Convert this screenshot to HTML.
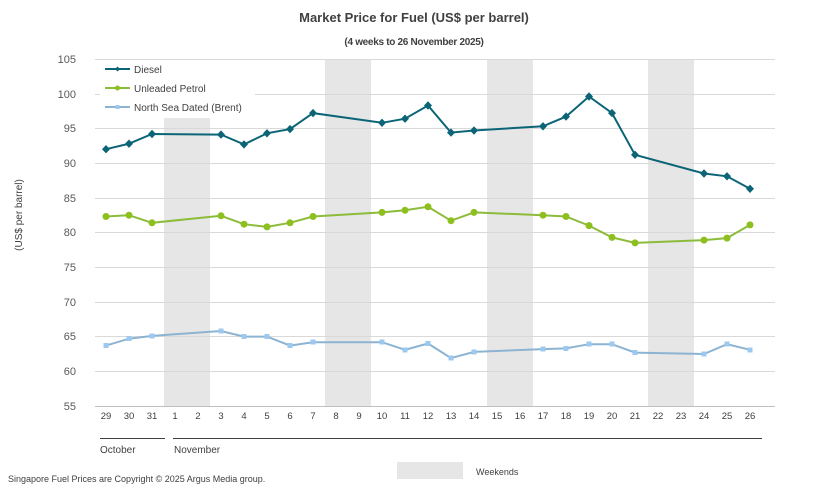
<!DOCTYPE html>
<html><head><meta charset="utf-8"><style>
body{margin:0;background:#fff;}
svg{display:block;font-family:"Liberation Sans",sans-serif;}
</style></head><body>
<svg width="829" height="494" viewBox="0 0 829 494" xmlns="http://www.w3.org/2000/svg">
<rect width="829" height="494" fill="#fff"/>
<text x="414" y="22" text-anchor="middle" font-size="13" font-weight="bold" fill="#404040">Market Price for Fuel (US$ per barrel)</text>
<text x="414" y="45" text-anchor="middle" font-size="10" font-weight="bold" fill="#404040" letter-spacing="-0.3">(4 weeks to 26 November 2025)</text>
<g fill="#e6e6e6">
<rect x="164" y="59" width="46" height="347"/>
<rect x="325" y="59" width="46" height="347"/>
<rect x="487" y="59" width="46" height="347"/>
<rect x="648" y="59" width="46" height="347"/>
</g>
<g stroke="#d9d9d9" stroke-width="1">
<line x1="95" x2="775" y1="59.5" y2="59.5"/><line x1="95" x2="775" y1="94.5" y2="94.5"/><line x1="95" x2="775" y1="128.5" y2="128.5"/><line x1="95" x2="775" y1="163.5" y2="163.5"/><line x1="95" x2="775" y1="198.5" y2="198.5"/><line x1="95" x2="775" y1="232.5" y2="232.5"/><line x1="95" x2="775" y1="267.5" y2="267.5"/><line x1="95" x2="775" y1="302.5" y2="302.5"/><line x1="95" x2="775" y1="336.5" y2="336.5"/><line x1="95" x2="775" y1="371.5" y2="371.5"/>
</g>
<line x1="95" x2="775" y1="406.5" y2="406.5" stroke="#bfbfbf"/>
<g font-size="11" fill="#595959" text-anchor="end">
<text x="76" y="63">105</text><text x="76" y="98">100</text><text x="76" y="132">95</text><text x="76" y="167">90</text><text x="76" y="202">85</text><text x="76" y="236">80</text><text x="76" y="271">75</text><text x="76" y="306">70</text><text x="76" y="340">65</text><text x="76" y="375">60</text><text x="76" y="410">55</text>
</g>
<text transform="translate(22,215) rotate(-90)" text-anchor="middle" font-size="10" fill="#404040">(US$ per barrel)</text>
<g font-size="9.5" fill="#404040" text-anchor="middle">
<text x="106" y="419">29</text><text x="129" y="419">30</text><text x="152" y="419">31</text><text x="175" y="419">1</text><text x="198" y="419">2</text><text x="221" y="419">3</text><text x="244" y="419">4</text><text x="267" y="419">5</text><text x="290" y="419">6</text><text x="313" y="419">7</text><text x="336" y="419">8</text><text x="359" y="419">9</text><text x="382" y="419">10</text><text x="405" y="419">11</text><text x="428" y="419">12</text><text x="451" y="419">13</text><text x="474" y="419">14</text><text x="497" y="419">15</text><text x="520" y="419">16</text><text x="543" y="419">17</text><text x="566" y="419">18</text><text x="589" y="419">19</text><text x="612" y="419">20</text><text x="635" y="419">21</text><text x="658" y="419">22</text><text x="681" y="419">23</text><text x="704" y="419">24</text><text x="727" y="419">25</text><text x="750" y="419">26</text>
</g>
<line x1="100" x2="165" y1="438.5" y2="438.5" stroke="#404040"/>
<line x1="173" x2="762" y1="438.5" y2="438.5" stroke="#404040"/>
<text x="100" y="453" font-size="10" fill="#404040">October</text>
<text x="174" y="453" font-size="10" fill="#404040">November</text>
<!-- Brent -->
<polyline fill="none" stroke="#8cb4d2" stroke-width="2" points="106,345.6 129,338.7 152,335.9 221,331 244,336.6 267,336.6 290,345.6 313,342.2 382,342.2 405,349.8 428,343.5 451,358.1 474,351.9 543,349.1 566,348.4 589,344.2 612,344.2 635,352.6 704,354 727,344.2 750,349.8"/>
<g fill="#9dc8ef">
<rect x="103.5" y="343" width="5" height="5"/><rect x="126.5" y="336" width="5" height="5"/><rect x="149.5" y="333.5" width="5" height="5"/><rect x="218.5" y="328.5" width="5" height="5"/><rect x="241.5" y="334" width="5" height="5"/><rect x="264.5" y="334" width="5" height="5"/><rect x="287.5" y="343" width="5" height="5"/><rect x="310.5" y="339.5" width="5" height="5"/><rect x="379.5" y="339.5" width="5" height="5"/><rect x="402.5" y="347.5" width="5" height="5"/><rect x="425.5" y="341" width="5" height="5"/><rect x="448.5" y="355.5" width="5" height="5"/><rect x="471.5" y="349.5" width="5" height="5"/><rect x="540.5" y="346.5" width="5" height="5"/><rect x="563.5" y="346" width="5" height="5"/><rect x="586.5" y="341.5" width="5" height="5"/><rect x="609.5" y="341.5" width="5" height="5"/><rect x="632.5" y="350" width="5" height="5"/><rect x="701.5" y="351.5" width="5" height="5"/><rect x="724.5" y="341.5" width="5" height="5"/><rect x="747.5" y="347.5" width="5" height="5"/>
</g>
<!-- Petrol -->
<polyline fill="none" stroke="#8dbb3a" stroke-width="2" points="106,216.5 129,215.2 152,222.8 221,215.8 244,224.2 267,226.9 290,222.8 313,216.5 382,212.4 405,210.3 428,206.8 451,220.7 474,212.4 543,215.2 566,216.5 589,225.6 612,237.4 635,242.9 704,240.1 727,238.1 750,224.9"/>
<g fill="#8dbf1f">
<circle cx="106" cy="216.5" r="3.5"/><circle cx="129" cy="215.2" r="3.5"/><circle cx="152" cy="222.8" r="3.5"/><circle cx="221" cy="215.8" r="3.5"/><circle cx="244" cy="224.2" r="3.5"/><circle cx="267" cy="226.9" r="3.5"/><circle cx="290" cy="222.8" r="3.5"/><circle cx="313" cy="216.5" r="3.5"/><circle cx="382" cy="212.4" r="3.5"/><circle cx="405" cy="210.3" r="3.5"/><circle cx="428" cy="206.8" r="3.5"/><circle cx="451" cy="220.7" r="3.5"/><circle cx="474" cy="212.4" r="3.5"/><circle cx="543" cy="215.2" r="3.5"/><circle cx="566" cy="216.5" r="3.5"/><circle cx="589" cy="225.6" r="3.5"/><circle cx="612" cy="237.4" r="3.5"/><circle cx="635" cy="242.9" r="3.5"/><circle cx="704" cy="240.1" r="3.5"/><circle cx="727" cy="238.1" r="3.5"/><circle cx="750" cy="224.9" r="3.5"/>
</g>
<!-- Diesel -->
<polyline fill="none" stroke="#0b6577" stroke-width="2" points="106,149.2 129,143.7 152,134 221,134.6 244,144.4 267,133.3 290,129.1 313,113.1 382,122.8 405,118.7 428,105.5 451,132.6 474,130.5 543,126.3 566,116.6 589,96.5 612,113.1 635,154.8 704,173.5 727,176.3 750,188.8"/>
<g fill="#0b6577">
<path d="M106 145l4 4.2-4 4.2-4-4.2z"/><path d="M129 139.5l4 4.2-4 4.2-4-4.2z"/><path d="M152 129.8l4 4.2-4 4.2-4-4.2z"/><path d="M221 130.4l4 4.2-4 4.2-4-4.2z"/><path d="M244 140.2l4 4.2-4 4.2-4-4.2z"/><path d="M267 129.1l4 4.2-4 4.2-4-4.2z"/><path d="M290 124.9l4 4.2-4 4.2-4-4.2z"/><path d="M313 108.9l4 4.2-4 4.2-4-4.2z"/><path d="M382 118.6l4 4.2-4 4.2-4-4.2z"/><path d="M405 114.5l4 4.2-4 4.2-4-4.2z"/><path d="M428 101.3l4 4.2-4 4.2-4-4.2z"/><path d="M451 128.4l4 4.2-4 4.2-4-4.2z"/><path d="M474 126.3l4 4.2-4 4.2-4-4.2z"/><path d="M543 122.1l4 4.2-4 4.2-4-4.2z"/><path d="M566 112.4l4 4.2-4 4.2-4-4.2z"/><path d="M589 92.3l4 4.2-4 4.2-4-4.2z"/><path d="M612 108.9l4 4.2-4 4.2-4-4.2z"/><path d="M635 150.6l4 4.2-4 4.2-4-4.2z"/><path d="M704 169.3l4 4.2-4 4.2-4-4.2z"/><path d="M727 172.1l4 4.2-4 4.2-4-4.2z"/><path d="M750 184.6l4 4.2-4 4.2-4-4.2z"/>
</g>
<!-- Legend -->
<rect x="100" y="60" width="155" height="58" fill="#fff"/>
<line x1="105" x2="130" y1="69" y2="69" stroke="#0b6577" stroke-width="2"/><path d="M117.5 66.5l2.5 2.5-2.5 2.5-2.5-2.5z" fill="#0b6577"/>
<text x="134" y="73" font-size="10" fill="#404040">Diesel</text>
<line x1="105" x2="130" y1="88" y2="88" stroke="#8dbb3a" stroke-width="2"/><circle cx="117.5" cy="88" r="2.5" fill="#8dbf1f"/>
<text x="134" y="92" font-size="10" fill="#404040">Unleaded Petrol</text>
<line x1="105" x2="130" y1="107" y2="107" stroke="#8cb4d2" stroke-width="2"/><rect x="115.5" y="105" width="4" height="4" fill="#9dc8ef"/>
<text x="134" y="111" font-size="10" fill="#404040">North Sea Dated (Brent)</text>
<rect x="397" y="462" width="66" height="17" fill="#e6e6e6"/>
<text x="476" y="475" font-size="9" fill="#404040">Weekends</text>
<text x="8" y="482" font-size="9" fill="#404040">Singapore Fuel Prices are Copyright © 2025 Argus Media group.</text>
</svg>
</body></html>
